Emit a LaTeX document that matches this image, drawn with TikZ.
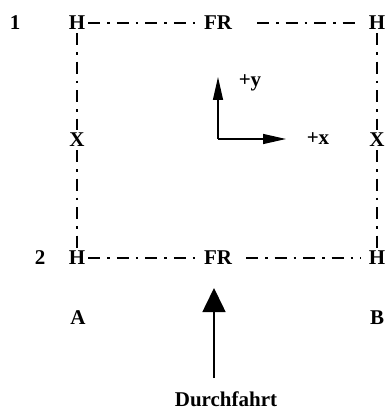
\documentclass[tikz,border=0pt]{standalone}
\usepackage{fontspec}
\setmainfont{Liberation Serif}
\usetikzlibrary{arrows.meta}
\begin{document}
\begin{tikzpicture}[x=1pt,y=-1pt,
  lbl/.style={font=\fontsize{21}{24}\selectfont\bfseries, inner sep=3pt},
  dd/.style={line width=2.2pt, dash pattern=on 12pt off 7pt on 2.5pt off 7pt},
  axis/.style={line width=1.3pt, -{Triangle[length=23pt,width=10pt]}},
  drive/.style={line width=1.6pt, -{Triangle[length=24pt,width=23pt]}}]
\useasboundingbox (0,0) rectangle (386,414);
% labels
\node[lbl] (n1) at (15,23) {1};
\node[lbl] (n2) at (40,258) {2};
\node[lbl] (H1) at (77,23) {H};
\node[lbl] (FR1) at (218,23) {FR};
\node[lbl] (H2) at (377,23) {H};
\node[lbl] (X2) at (377,140) {X};
\node[lbl] (X1) at (77,140) {X};
\node[lbl] (H3) at (77,258) {H};
\node[lbl] (FR2) at (218,258) {FR};
\node[lbl] (H4) at (377,258) {H};
\node[lbl] (A) at (78,318) {A};
\node[lbl] (B) at (377,318) {B};
\node[lbl] (py) at (250,83) {+y};
\node[lbl] (px) at (318,139) {+x};
\node[lbl] (dur) at (226,399) {Durchfahrt};
% dash-dot frame
\draw[dd] (H1) -- (FR1);
\draw[dd, shorten <=22pt, shorten >=5pt] (FR1) -- (H2);
\draw[dd] (H3) -- (FR2);
\draw[dd, shorten <=11pt, shorten >=5pt] (FR2) -- (H4);
\draw[dd] (H1) -- (X1);
\draw[dd] (X1) -- (H3);
\draw[dd] (H2) -- (X2);
\draw[dd] (X2) -- (H4);
% axes
\coordinate (o) at (218,139);
\coordinate (ytip) at (218,77);
\coordinate (xtip) at (286,139);
\draw[axis] (o) -- (ytip);
\draw[axis] (o) -- (xtip);
% drive-through arrow
\coordinate (dstart) at (214,378);
\coordinate (dtip) at (214,288);
\draw[drive] (dstart) -- (dtip);
\end{tikzpicture}
\end{document}
